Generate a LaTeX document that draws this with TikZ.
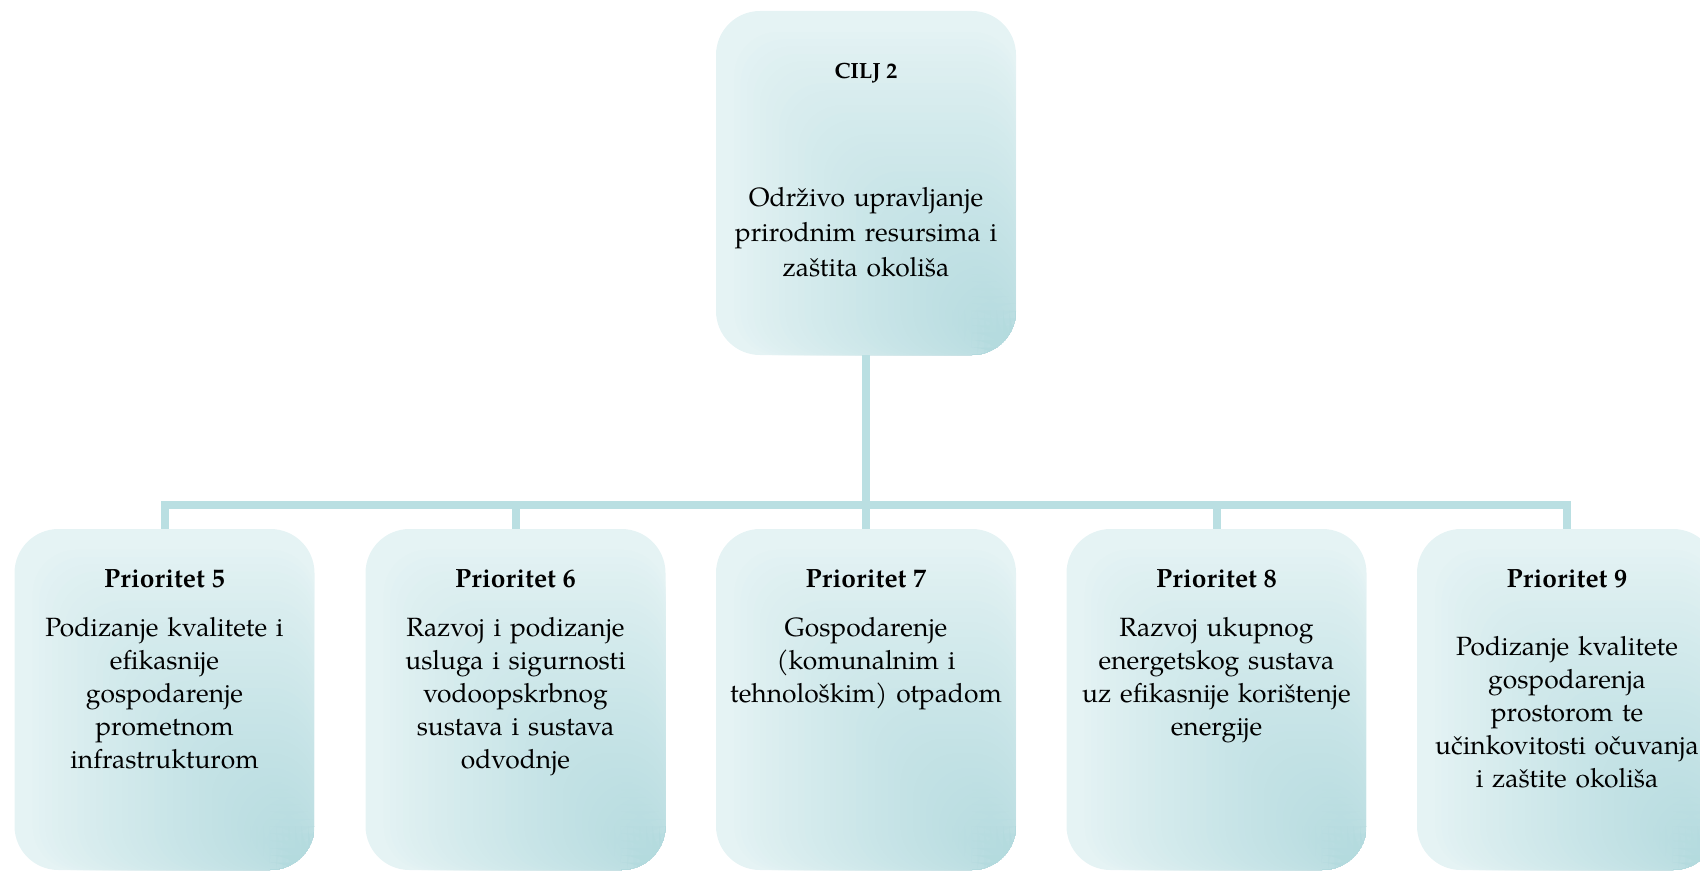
\documentclass[tikz,border=0pt]{standalone}
\usepackage{fontspec}
\setmainfont{TeX Gyre Pagella}
\usetikzlibrary{calc}
\definecolor{boxlight}{HTML}{E5F3F4}
\definecolor{boxdark}{HTML}{B3DADE}
\definecolor{linec}{HTML}{BADFE2}
\begin{document}
\begin{tikzpicture}[x=0.5pt,y=-0.5pt,
  goalbox/.style={rectangle, rounded corners=22pt, minimum width=150pt, inner sep=0pt,
    fill=boxlight,
    path picture={
      \foreach \i in {0,...,44}{
        \pgfmathsetmacro\tt{0.04+0.96*\i/45}
        \pgfmathsetmacro\pct{100*(\i/44)^0.85}
        \fill[boxdark!\pct!boxlight]
          ($(path picture bounding box.north west)!\tt!(path picture bounding box.south east)$)
          rectangle (path picture bounding box.south east);
      }
    }},
  conn/.style={draw=linec, line width=4pt},
  ttl/.style={font=\bfseries\fontsize{13.2}{15}\selectfont, anchor=base, inner sep=0pt},
  smallttl/.style={font=\bfseries\fontsize{11}{13}\selectfont, anchor=base, inner sep=0pt},
  body/.style={font=\fontsize{13.2}{16.5}\selectfont, align=center, text width=175pt, anchor=base, inner sep=0pt},
  topbody/.style={font=\fontsize{13.2}{17.5}\selectfont, align=center, text width=175pt, anchor=base, inner sep=0pt}]
\useasboundingbox (0,0) rectangle (1700,871);

% boxes
\node[goalbox, minimum height=172pt] (cilj) at (866,183) {};
\node[goalbox, minimum height=170.5pt] (p5) at (164.5,699.5) {};
\node[goalbox, minimum height=170.5pt] (p6) at (515.5,699.5) {};
\node[goalbox, minimum height=170.5pt] (p7) at (866,699.5) {};
\node[goalbox, minimum height=170.5pt] (p8) at (1216.5,699.5) {};
\node[goalbox, minimum height=170.5pt] (p9) at (1567,699.5) {};

% connectors
\coordinate (bus) at (866,505);
\draw[conn] (cilj.south) -- (cilj.south |- bus);
\draw[conn, line join=miter] (p5.north) -- (p5.north |- bus) -- (p9.north |- bus) -- (p9.north);
\foreach \n in {p6,p7,p8} \draw[conn] (\n.north) -- (\n.north |- bus);

% texts
\node[smallttl] (ciljt) at (866,79) {CILJ 2};
\node[topbody] (ciljb) at (866,207) {Održivo upravljanje\\prirodnim resursima i\\zaštita okoliša};

\node[ttl] (p5t) at (164.5,587) {Prioritet 5};
\node[body] (p5b) at (164.5,636) {Podizanje kvalitete i\\efikasnije\\gospodarenje\\prometnom\\infrastrukturom};

\node[ttl] (p6t) at (515.5,587) {Prioritet 6};
\node[body] (p6b) at (515.5,636) {Razvoj i podizanje\\usluga i sigurnosti\\vodoopskrbnog\\sustava i sustava\\odvodnje};

\node[ttl] (p7t) at (866,587) {Prioritet 7};
\node[body] (p7b) at (866,636) {Gospodarenje\\(komunalnim i\\tehnološkim) otpadom};

\node[ttl] (p8t) at (1216.5,587) {Prioritet 8};
\node[body] (p8b) at (1216.5,636) {Razvoj ukupnog\\energetskog sustava\\uz efikasnije korištenje\\energije};

\node[ttl] (p9t) at (1567,587) {Prioritet 9};
\node[body] (p9b) at (1567,655) {Podizanje kvalitete\\gospodarenja\\prostorom te\\učinkovitosti očuvanja\\i zaštite okoliša};
\end{tikzpicture}
\end{document}
